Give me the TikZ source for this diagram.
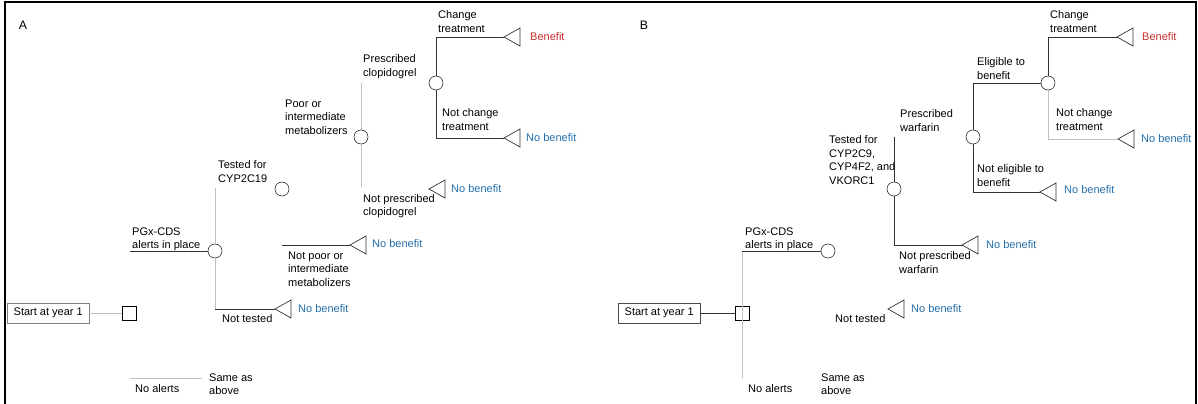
\documentclass[tikz,border=0pt]{standalone}
\usepackage{fontspec}
\setmainfont{Liberation Sans}

\definecolor{benred}{RGB}{200,45,45}
\definecolor{nobblue}{RGB}{35,110,170}

\begin{document}
\begin{tikzpicture}[x = 0.03cm, y = -0.03cm,
	txt/.style = {inner sep = 0, font = \fontsize{9.4}{11.5}\selectfont},
	lbl/.style = {txt, anchor = north west, align = left},
	chance/.style = {draw, circle, minimum size = 12pt, inner sep = 0},
	decision/.style = {draw, rectangle, minimum size = 12pt, inner sep = 0},
	startbox/.style = {draw = gray, txt, minimum width = 70pt, minimum height = 17pt},
	line/.style = {black!80, line width = 0.6pt},
	faint/.style = {black!25, line width = 0.6pt},
	good/.style = {txt, anchor = west, text = benred},
	nogood/.style = {txt, anchor = west, text = nobblue},
	payoff/.pic = {\draw [line] (0, 0) -- (16, -9) -- (16, 9) -- cycle;}]

	% Page size and frame
	
	\useasboundingbox (0, 0) rectangle (1198, 404);
	\draw [line width = 2.5pt] (5, 404) -- (5, 2) -- (1196, 2) -- (1196, 404);
	
	% ---------- Panel A ----------
	
	\node [txt, font = \fontsize{10.5}{12}\selectfont] (labA) at (23, 25) {A};
	
	\node [startbox, anchor = west] (startA) at (7, 313) {Start at year 1};
	\node [decision] (decA) at (129, 313) {};
	\draw [faint] (startA) -- (decA);
	
	\node [chance] (pgxA) at (215, 251) {};
	\node [chance] (testA) at (282, 189) {};
	\node [chance] (poorA) at (361, 137) {};
	\node [chance] (prescA) at (436, 83) {};
	
	\coordinate (altA) at (130, 251);
	\coordinate (noaltA) at (130, 378);
	\coordinate (noaltendA) at (202, 378);
	
	\coordinate (tA1) at (504, 37);
	\coordinate (tA2) at (504, 138);
	\coordinate (tA3) at (429, 189);
	\coordinate (tA4) at (350, 245);
	\coordinate (tA5) at (275, 309);
	
	\foreach \t in {tA1, tA2, tA3, tA4, tA5}
		\pic at (\t) {payoff};
	
	% Branches
	
	\draw [line] (altA) -- (pgxA);
	\draw [faint] (noaltA) -- (noaltendA);
	\draw [faint] (215, 188) -- (pgxA) -- (tA5 -| pgxA);
	\draw [line] (tA5 -| pgxA) -- (tA5);
	\draw [line] (tA4 -| testA) -- (tA4);
	\draw [faint] (361, 83) -- (poorA) -- (361, 187);
	\draw [line] (prescA) |- (tA1);
	\draw [line] (prescA) |- (tA2);
	
	% Labels
	
	\node [lbl] (l1A) at (132, 227.5) {PGx-CDS\\alerts in place};
	\node [lbl] (l2A) at (218, 160.5) {Tested for\\CYP2C19};
	\node [lbl] (l3A) at (285, 99.5) {Poor or\\intermediate\\metabolizers};
	\node [lbl] (l4A) at (363, 54.5) {Prescribed\\clopidogrel};
	\node [lbl] (l5A) at (438, 10.5) {Change\\treatment};
	\node [lbl] (l6A) at (442, 108.5) {Not change\\treatment};
	\node [lbl] (l7A) at (363, 194) {Not prescribed\\clopidogrel};
	\node [lbl] (l8A) at (288, 251.5) {Not poor or\\intermediate\\metabolizers};
	\node [lbl] (l9A) at (222, 314.5) {Not tested};
	\node [lbl] (l10A) at (135, 384.5) {No alerts};
	\node [lbl] (l11A) at (209, 373.5) {Same as\\above};
	
	\node [good] (o1A) at (530, 37) {Benefit};
	\node [nogood] (o2A) at (526, 138) {No benefit};
	\node [nogood] (o3A) at (451, 189) {No benefit};
	\node [nogood] (o4A) at (372, 244) {No benefit};
	\node [nogood] (o5A) at (298, 309) {No benefit};
	
	% ---------- Panel B ----------
	
	\node [txt, font = \fontsize{10.5}{12}\selectfont] (labB) at (644, 25) {B};
	
	\node [startbox, draw = black!70, anchor = west] (startB) at (618, 313) {Start at year 1};
	\node [decision] (decB) at (742, 313) {};
	\draw [line] (startB) -- (decB);
	
	\node [chance] (pgxB) at (828, 251) {};
	\node [chance] (testB) at (894, 189) {};
	\node [chance] (prescB) at (973, 137) {};
	\node [chance] (eligB) at (1048, 83) {};
	
	\coordinate (topB) at (742, 251);
	\coordinate (botB) at (742, 378);
	
	\coordinate (tB1) at (1117, 37);
	\coordinate (tB2) at (1118, 139);
	\coordinate (tB3) at (1040, 192);
	\coordinate (tB4) at (962, 245);
	\coordinate (tB5) at (888, 309);
	
	\foreach \t in {tB1, tB2, tB3, tB4, tB5}
		\pic at (\t) {payoff};
	
	% Branches
	
	\draw [faint] (topB) -- (botB);
	\draw [line] (topB) -- (pgxB);
	\draw [line] (894, 137) -- (testB) |- (tB4);
	\draw [line] (eligB) -| (prescB) |- (tB3);
	\draw [line] (eligB) |- (tB1);
	\draw [faint] (eligB) |- (tB2);
	
	% Labels
	
	\node [lbl] (l1B) at (745, 227.5) {PGx-CDS\\alerts in place};
	\node [lbl] (l2B) at (829, 135.5) {Tested for\\CYP2C9,\\CYP4F2, and\\VKORC1};
	\node [lbl] (l3B) at (900, 109.5) {Prescribed\\warfarin};
	\node [lbl] (l4B) at (977, 57.5) {Eligible to\\benefit};
	\node [lbl] (l5B) at (1050, 10.5) {Change\\treatment};
	\node [lbl] (l6B) at (1056, 108.5) {Not change\\treatment};
	\node [lbl] (l7B) at (977, 164.5) {Not eligible to\\benefit};
	\node [lbl] (l8B) at (899, 251.5) {Not prescribed\\warfarin};
	\node [lbl] (l9B) at (835, 314.5) {Not tested};
	\node [lbl] (l10B) at (748, 384.5) {No alerts};
	\node [lbl] (l11B) at (821, 373.5) {Same as\\above};
	
	\node [good] (o1B) at (1142, 37) {Benefit};
	\node [nogood] (o2B) at (1141, 139) {No benefit};
	\node [nogood] (o3B) at (1064, 190) {No benefit};
	\node [nogood] (o4B) at (986, 245) {No benefit};
	\node [nogood] (o5B) at (911, 309) {No benefit};
		
\end{tikzpicture}
\end{document}
